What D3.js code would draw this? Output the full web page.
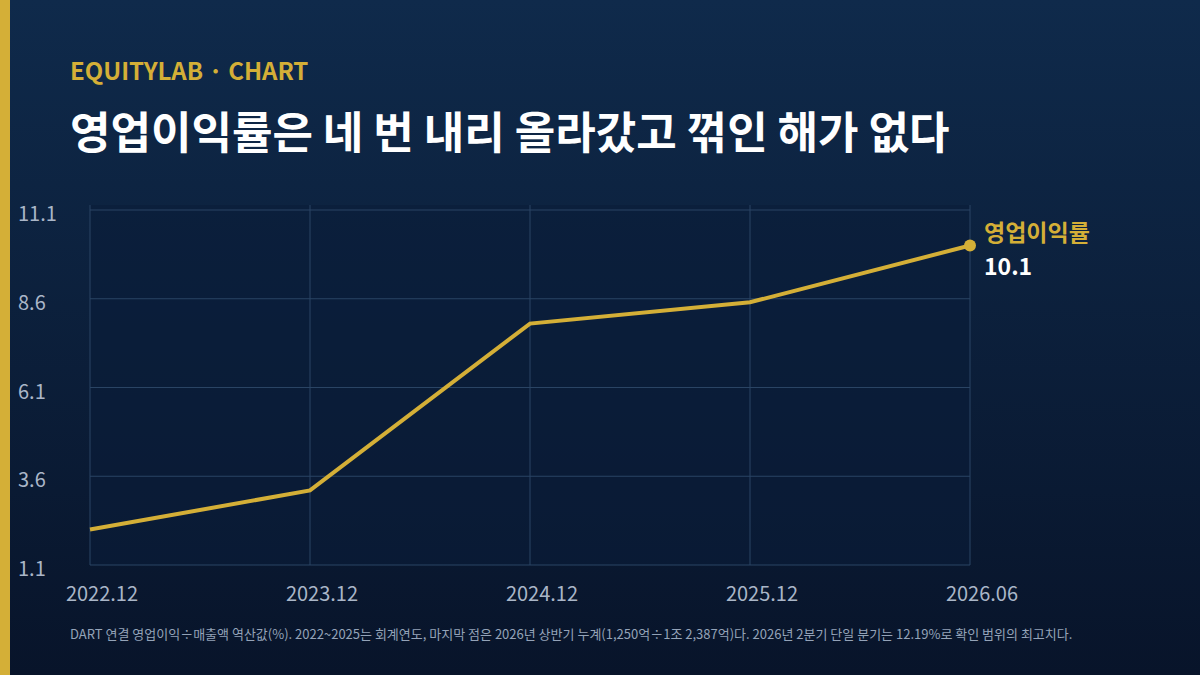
<!DOCTYPE html>
<html>
<head>
<meta charset="utf-8">
<script src="https://d3js.org/d3.v7.min.js"></script>
<style>
body { margin:0; }
svg text { font-family: "Noto Sans CJK KR", "Noto Sans", sans-serif; }
</style>
</head>
<body>
<svg id="chart" width="1200" height="675"></svg>
<script>
// 데이터
var periods = ['2022.12', '2023.12', '2024.12', '2025.12', '2026.06'];
var margins = [2.1, 3.2, 7.9, 8.5, 10.1];
var yTicks = [1.1, 3.6, 6.1, 8.6, 11.1];

var svg = d3.select('#chart');

var defs = svg.append('defs');
var grad = defs.append('linearGradient').attr('id', 'bg')
    .attr('x1', 0).attr('y1', 0).attr('x2', 0).attr('y2', 1);
grad.append('stop').attr('offset', '0%').attr('stop-color', '#0f2a4b');
grad.append('stop').attr('offset', '100%').attr('stop-color', '#08142a');

svg.append('rect').attr('width', 1200).attr('height', 675).attr('fill', 'url(#bg)');
svg.append('rect').attr('width', 10).attr('height', 675).attr('fill', '#d4af37');

svg.append('text').attr('x', 70).attr('y', 80)
    .attr('fill', '#d4af37').attr('font-size', 24).attr('font-weight', 700)
    .text('EQUITYLAB · CHART');
svg.append('text').attr('x', 70).attr('y', 149)
    .attr('fill', '#ffffff').attr('font-size', 44).attr('font-weight', 700)
    .text('영업이익률은 네 번 내리 올라갔고 꺾인 해가 없다');

var x = d3.scalePoint().domain(periods).range([90, 970]);
var y = d3.scaleLinear().domain([1.1, 11.1]).range([565, 210]);

// 플롯 배경
svg.append('rect').attr('x', 90).attr('y', 205).attr('width', 880).attr('height', 360)
    .attr('fill', '#0a1d38').attr('opacity', 0.6);

// 격자
svg.append('g').selectAll('line').data(yTicks).join('line')
    .attr('x1', 90).attr('x2', 970)
    .attr('y1', function(d){ return y(d); }).attr('y2', function(d){ return y(d); })
    .attr('stroke', '#2a4464').attr('stroke-width', 1);
svg.append('g').selectAll('line').data(periods).join('line')
    .attr('x1', function(d){ return x(d); }).attr('x2', function(d){ return x(d); })
    .attr('y1', 205).attr('y2', 565)
    .attr('stroke', '#2a4464').attr('stroke-width', 1);

// 축 레이블
svg.append('g').selectAll('text').data(yTicks).join('text')
    .attr('x', 18).attr('y', function(d){ return y(d) + 11; })
    .attr('fill', '#aab6c8').attr('font-size', 20)
    .text(function(d){ return d.toFixed(1); });
svg.append('g').selectAll('text').data(periods).join('text')
    .attr('x', function(d){ return x(d) + 12; }).attr('y', 601)
    .attr('text-anchor', 'middle')
    .attr('fill', '#aab6c8').attr('font-size', 20)
    .text(function(d){ return d; });

// 선
var line = d3.line()
    .x(function(d, i){ return x(periods[i]); })
    .y(function(d){ return y(d); });
svg.append('path').attr('d', line(margins))
    .attr('fill', 'none').attr('stroke', '#d4af37').attr('stroke-width', 4);

var last = margins.length - 1;
svg.append('circle').attr('cx', x(periods[last])).attr('cy', y(margins[last])).attr('r', 6)
    .attr('fill', '#d4af37');
svg.append('text').attr('x', 984).attr('y', 241)
    .attr('fill', '#d4af37').attr('font-size', 23).attr('font-weight', 700).text('영업이익률');
svg.append('text').attr('x', 984).attr('y', 275)
    .attr('fill', '#ffffff').attr('font-size', 23).attr('font-weight', 700)
    .text(margins[last].toFixed(1));

svg.append('text').attr('x', 70).attr('y', 639)
    .attr('fill', '#94a3b8').attr('font-size', 13)
    .text('DART 연결 영업이익÷매출액 역산값(%). 2022~2025는 회계연도, 마지막 점은 2026년 상반기 누계(1,250억÷1조 2,387억)다. 2026년 2분기 단일 분기는 12.19%로 확인 범위의 최고치다.');
</script>
</body>
</html>
